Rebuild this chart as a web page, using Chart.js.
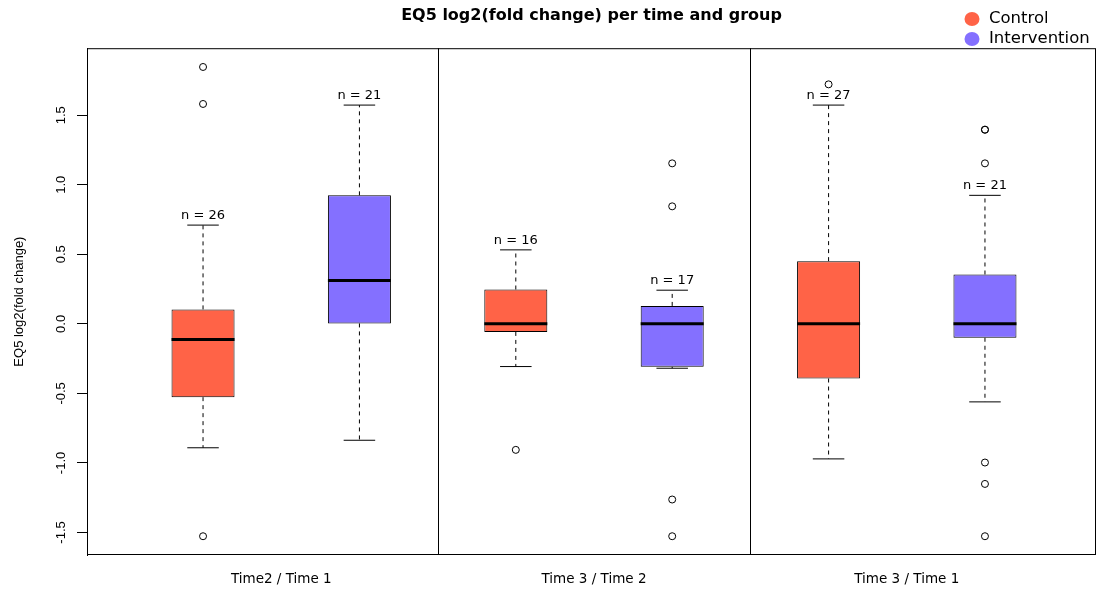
<!DOCTYPE html>
<html>
<head>
<meta charset="utf-8">
<script src="https://cdn.jsdelivr.net/npm/chart.js@4.4.1/dist/chart.umd.min.js"></script>
<style>
  html, body { margin: 0; padding: 0; background: #fff; }
  canvas { display: block; }
</style>
</head>
<body>
<canvas id="chart" width="1097" height="590"></canvas>
<script>
// Groups along the x axis and the two arms of the study
const groupLabels = ['Time2 / Time 1', 'Time 3 / Time 2', 'Time 3 / Time 1'];
const seriesNames = ['Control', 'Intervention'];
const seriesColors = ['#FF6347', '#8470FF'];

// Box statistics per group: whisker ends, quartiles, median, sample size, outliers
const controlLow = [-0.891, -0.307, -0.971];
const controlQ1 = [-0.527, -0.058, -0.393];
const controlMedian = [-0.112, 0.000, 0.000];
const controlQ3 = [0.104, 0.247, 0.451];
const controlHigh = [0.710, 0.532, 1.573];
const controlN = [26, 16, 27];
const controlOutliers = [[1.847, 1.581, -1.527], [-0.906], [1.722]];

const interventionLow = [-0.837, -0.319, -0.561];
const interventionQ1 = [0.003, -0.309, -0.100];
const interventionMedian = [0.312, 0.000, 0.000];
const interventionQ3 = [0.924, 0.129, 0.355];
const interventionHigh = [1.573, 0.242, 0.924];
const interventionN = [21, 17, 21];
const interventionOutliers = [[], [1.154, 0.845, -1.263, -1.527], [1.396, 1.396, 1.154, -0.997, -1.151, -1.527]];

const yTicks = [-1.5, -1.0, -0.5, 0.0, 0.5, 1.0, 1.5];

const series = [
  { name: seriesNames[0], color: seriesColors[0], low: controlLow, q1: controlQ1, median: controlMedian,
    q3: controlQ3, high: controlHigh, n: controlN, outliers: controlOutliers },
  { name: seriesNames[1], color: seriesColors[1], low: interventionLow, q1: interventionQ1, median: interventionMedian,
    q3: interventionQ3, high: interventionHigh, n: interventionN, outliers: interventionOutliers }
];

const BOX = 0.403;          // box width in x units
const CAP = BOX / 2;        // staple width
const pos = (g, s) => 2 * g + s + 1;

// y range: data extent padded by 4% on each side
const allValues = series.flatMap(s => [...s.low, ...s.high, ...s.outliers.flat()]);
const yLo = Math.min(...allValues), yHi = Math.max(...allValues);
const yPad = 0.04 * (yHi - yLo);

const gap = (x) => ({ x, y: null });
const datasets = [];

series.forEach((s, si) => {
  datasets.push({
    type: 'bar', label: s.name,
    data: groupLabels.map((_, g) => ({ x: pos(g, si), y: [s.q1[g], s.q3[g]] })),
    backgroundColor: s.color, borderColor: '#000', borderWidth: 1, borderSkipped: false,
    grouped: false, categoryPercentage: 1, barPercentage: BOX, order: 5
  });
});

const whiskerPts = [], capPts = [], medianPts = [], outlierPts = [];
series.forEach((s, si) => {
  groupLabels.forEach((_, g) => {
    const x = pos(g, si);
    whiskerPts.push({ x, y: s.q3[g] }, { x, y: s.high[g] }, gap(x), { x, y: s.q1[g] }, { x, y: s.low[g] }, gap(x));
    capPts.push({ x: x - CAP / 2, y: s.high[g] }, { x: x + CAP / 2, y: s.high[g] }, gap(x),
                { x: x - CAP / 2, y: s.low[g] }, { x: x + CAP / 2, y: s.low[g] }, gap(x));
    medianPts.push({ x: x - BOX / 2, y: s.median[g] }, { x: x + BOX / 2, y: s.median[g] }, gap(x));
    s.outliers[g].forEach(v => outlierPts.push({ x, y: v }));
  });
});

datasets.push({ type: 'line', label: 'whiskers', data: whiskerPts, borderColor: '#000', borderWidth: 1,
  borderDash: [4, 4], pointRadius: 0, spanGaps: false, tension: 0, fill: false, order: 4 });
datasets.push({ type: 'line', label: 'staples', data: capPts, borderColor: '#000', borderWidth: 1,
  pointRadius: 0, spanGaps: false, tension: 0, fill: false, order: 3 });
datasets.push({ type: 'line', label: 'medians', data: medianPts, borderColor: '#000', borderWidth: 3,
  borderCapStyle: 'butt', pointRadius: 0, spanGaps: false, tension: 0, fill: false, order: 2 });
datasets.push({ type: 'scatter', label: 'outliers', data: outlierPts, borderColor: '#000', borderWidth: 1,
  backgroundColor: 'rgba(0,0,0,0)', pointRadius: 3.5, pointStyle: 'circle', order: 1 });

// Plot frame and the vertical rules between groups
const framePlugin = {
  id: 'frame',
  afterDatasetsDraw(chart) {
    const { ctx, chartArea: a, scales: { x } } = chart;
    ctx.save();
    ctx.strokeStyle = '#000';
    ctx.lineWidth = 1;
    ctx.strokeRect(a.left + 0.5, a.top + 0.5, a.right - a.left - 1, a.bottom - a.top - 1);
    for (let g = 0; g < groupLabels.length - 1; g++) {
      const px = Math.round(x.getPixelForValue(2 * g + 2.5)) + 0.5;
      ctx.beginPath();
      ctx.moveTo(px, a.top);
      ctx.lineTo(px, a.bottom);
      ctx.stroke();
    }
    ctx.restore();
  }
};

// Sample size written above each upper whisker
const countPlugin = {
  id: 'counts',
  afterDatasetsDraw(chart) {
    const { ctx, scales: { x, y } } = chart;
    ctx.save();
    ctx.font = '13px "DejaVu Sans"';
    ctx.fillStyle = '#000';
    ctx.textAlign = 'center';
    ctx.textBaseline = 'bottom';
    series.forEach((s, si) => {
      groupLabels.forEach((_, g) => {
        ctx.fillText('n = ' + s.n[g], x.getPixelForValue(pos(g, si)), y.getPixelForValue(s.high[g]) - 3);
      });
    });
    ctx.restore();
  }
};

// Key in the top right corner
const keyPlugin = {
  id: 'cornerKey',
  afterDraw(chart) {
    const ctx = chart.ctx;
    ctx.save();
    ctx.font = '16.5px "DejaVu Sans"';
    ctx.textBaseline = 'middle';
    ctx.textAlign = 'left';
    chart.data.datasets.filter(d => d.type === 'bar').forEach((d, i) => {
      const cy = 19 + i * 20;
      ctx.fillStyle = d.backgroundColor;
      ctx.beginPath();
      ctx.ellipse(972, cy, 7.5, 7, 0, 0, Math.PI * 2);
      ctx.fill();
      ctx.fillStyle = '#000';
      ctx.fillText(d.label, 989, cy);
    });
    ctx.restore();
  }
};

new Chart(document.getElementById('chart'), {
  data: { datasets },
  plugins: [framePlugin, countPlugin, keyPlugin],
  options: {
    responsive: false,
    devicePixelRatio: 1,
    animation: false,
    events: [],
    layout: { autoPadding: false, padding: { left: 0, right: 1, top: 0, bottom: 0 } },
    plugins: {
      legend: { display: false },
      tooltip: { enabled: false },
      title: {
        display: true, fullSize: false,
        text: 'EQ5 log2(fold change) per time and group',
        color: '#000',
        font: { family: 'DejaVu Sans', size: 16, weight: 'bold' },
        padding: { top: 6, bottom: 23 }
      }
    },
    scales: {
      x: {
        type: 'linear', min: 0.258, max: 6.71, offset: false,
        afterBuildTicks: s => { s.ticks = groupLabels.map((_, g) => ({ value: 2 * g + 1.5 })); },
        afterFit: s => { s.height = 35; s.paddingLeft = 0; s.paddingRight = 0; },
        ticks: {
          callback: (v, i) => groupLabels[i],
          autoSkip: false, maxRotation: 0, padding: 16, color: '#000',
          font: { family: 'DejaVu Sans', size: 13.5 }
        },
        grid: { display: false, drawTicks: false, offset: false },
        border: { display: false }
      },
      y: {
        type: 'linear', min: yLo - yPad, max: yHi + yPad,
        afterBuildTicks: s => { s.ticks = yTicks.map(v => ({ value: v })); },
        afterFit: s => { s.width = 87; },
        ticks: {
          callback: v => v.toFixed(1),
          minRotation: 90, maxRotation: 90, crossAlign: 'center', padding: 4, color: '#000',
          font: { family: 'Liberation Sans', size: 13 }
        },
        grid: { display: true, drawOnChartArea: false, drawTicks: true, tickLength: 10, color: '#000' },
        border: { display: true, color: '#000' },
        title: {
          display: true, text: 'EQ5 log2(fold change)', color: '#000',
          font: { family: 'Liberation Sans', size: 13 },
          padding: { top: 12, bottom: 0 }
        }
      }
    }
  }
});
</script>
</body>
</html>
